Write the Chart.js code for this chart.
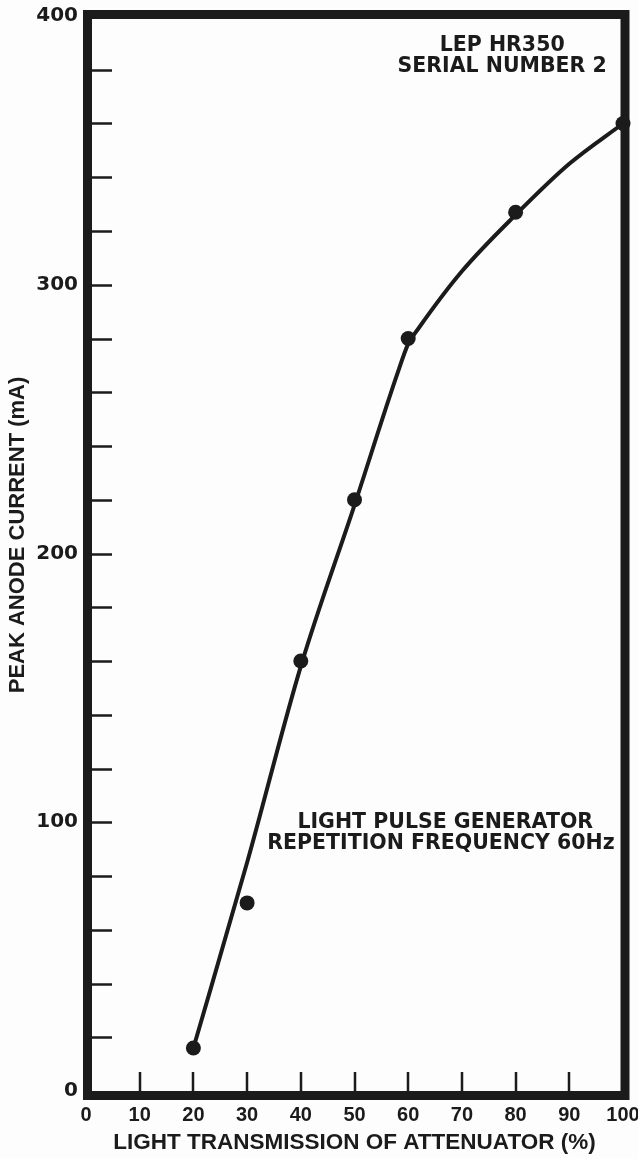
<!DOCTYPE html>
<html><head><meta charset="utf-8">
<script src="https://cdn.jsdelivr.net/npm/chart.js@4.4.1/dist/chart.umd.min.js"></script>
<style>html,body{margin:0;padding:0;background:#fdfdfd;}#wrap{width:638px;height:1159px;}</style>
</head><body><div id="wrap"><canvas id="c" width="638" height="1159"></canvas></div>
<script>
// measured points
const transmission = [20, 30, 40, 50, 60, 80, 100];
const peakCurrent = [16, 70, 160, 220, 280, 327, 360];
// hand-drawn curve
const curveTransmission = [20, 30, 40, 50, 58, 60, 62, 70, 80, 90, 100];
const curveCurrent = [16, 85, 158, 218, 267, 278, 284, 305, 326, 345, 360];
// tick labels
const xTickLabels = [0, 10, 20, 30, 40, 50, 60, 70, 80, 90, 100];
const yTickLabels = [0, 100, 200, 300, 400];
// axis titles
const xTitle = 'LIGHT TRANSMISSION OF ATTENUATOR (%)';
const yTitle = 'PEAK ANODE CURRENT (mA)';
// text notes
const noteLines = ['LEP HR350', 'SERIAL NUMBER 2', 'LIGHT PULSE GENERATOR', 'REPETITION FREQUENCY 60Hz'];
const noteX = [77.5, 77.5, 66.9, 66.1];
const noteY = [389, 381, 100, 92];

const INK = '#1b1b1b';
const AREA = {left: 86, right: 623, top: 16, bottom: 1091};

const framePlugin = {
  id: 'frame',
  beforeDatasetsDraw(chart) {
    const {ctx, chartArea: a, scales} = chart;
    ctx.save();
    ctx.strokeStyle = INK;
    ctx.lineWidth = 9;
    ctx.strokeRect(a.left + 1.5, a.top - 1.5, (a.right + 2) - (a.left + 1.5), (a.bottom + 4.5) - (a.top - 1.5));
    ctx.lineWidth = 2.5;
    ctx.beginPath();
    scales.y.ticks.forEach(t => {
      if (t.value <= 0 || t.value >= 400) return;
      const y = Math.round(scales.y.getPixelForValue(t.value)) + 0.5;
      ctx.moveTo(a.left, y); ctx.lineTo(a.left + 26, y);
    });
    scales.x.ticks.forEach(t => {
      if (t.value <= 0 || t.value >= 100) return;
      const x = Math.round(scales.x.getPixelForValue(t.value));
      ctx.moveTo(x, a.bottom + 2); ctx.lineTo(x, a.bottom - 19);
    });
    ctx.stroke();
    ctx.restore();
  },
  afterDraw(chart) {
    const {ctx, scales} = chart;
    ctx.save();
    ctx.fillStyle = INK;
    ctx.font = 'bold 20.5px "DejaVu Sans"';
    ctx.textAlign = 'center';
    ctx.textBaseline = 'middle';
    noteLines.forEach((s, i) => {
      ctx.fillText(s, scales.x.getPixelForValue(noteX[i]), scales.y.getPixelForValue(noteY[i]));
    });
    // vertical axis title
    ctx.font = 'bold 22px "Liberation Sans"';
    ctx.translate(18, 535);
    ctx.rotate(-Math.PI / 2);
    ctx.fillText(yTitle, 0, 0);
    ctx.restore();
  }
};

new Chart(document.getElementById('c'), {
  type: 'scatter',
  data: {
    datasets: [
      {
        label: 'Curve',
        type: 'line',
        data: curveTransmission.map((x, i) => ({x, y: curveCurrent[i]})),
        borderColor: INK,
        borderWidth: 4,
        pointRadius: 0,
        cubicInterpolationMode: 'monotone',
        fill: false,
        clip: false
      },
      {
        label: 'Measured',
        data: transmission.map((x, i) => ({x, y: peakCurrent[i]})),
        backgroundColor: INK,
        borderColor: INK,
        pointRadius: 7.5,
        borderWidth: 0,
        clip: false
      }
    ]
  },
  options: {
    responsive: false,
    animation: false,
    devicePixelRatio: 1,
    layout: {padding: {left: 0, top: AREA.top, right: 638 - AREA.right, bottom: 0}},
    plugins: {legend: {display: false}, tooltip: {enabled: false}},
    scales: {
      x: {
        type: 'linear', min: 0, max: 100,
        grid: {display: false, drawTicks: false},
        border: {display: false},
        ticks: {
          stepSize: 10, autoSkip: false, maxRotation: 0, padding: 12, color: INK,
          font: {family: 'Liberation Sans', size: 20, weight: 'bold'},
          callback: v => xTickLabels.includes(v) ? String(v) : ''
        },
        title: {display: true, text: xTitle, color: INK,
          font: {family: 'Liberation Sans', size: 22.5, weight: 'bold'}, padding: {top: 0, bottom: 2.5}},
        afterFit: s => { s.height = 1159 - AREA.bottom; s.paddingLeft = 0; s.paddingRight = 0; }
      },
      y: {
        type: 'linear', min: 0, max: 400,
        grid: {display: false, drawTicks: false},
        border: {display: false},
        ticks: {
          stepSize: 20, autoSkip: false, padding: 8, color: INK,
          font: {family: 'DejaVu Sans', size: 20, weight: 'bold'},
          callback: v => yTickLabels.includes(v) ? String(v) : ''
        },
        title: {display: false},
        afterFit: s => { s.width = AREA.left; s.paddingTop = 0; s.paddingBottom = 0; }
      }
    }
  },
  plugins: [framePlugin]
});
</script></body></html>
